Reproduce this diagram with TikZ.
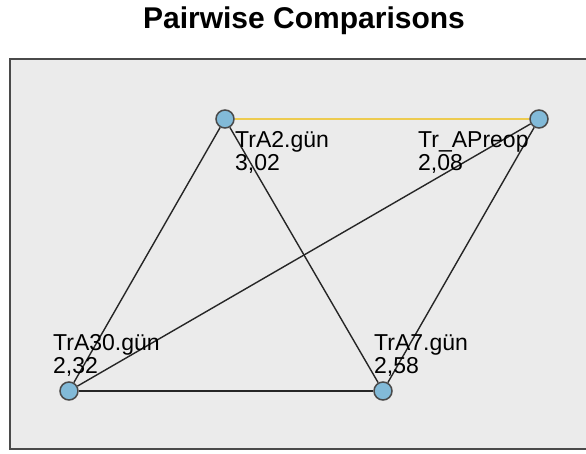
\documentclass[tikz,border=0pt]{standalone}
\usepackage{fontspec}
\setmainfont{Liberation Sans}
\usetikzlibrary{positioning,backgrounds}
\definecolor{sfondo}{HTML}{EBEBEB}
\definecolor{cornice}{HTML}{4A4A4A}
\definecolor{nodo}{HTML}{82BAD8}
\definecolor{giallo}{HTML}{EDCB4F}
\begin{document}
\begin{tikzpicture}[
  x=1pt, y=-1pt,
  vertice/.style={circle, draw=cornice, line width=1.5pt, fill=nodo,
                  minimum size=18pt, inner sep=0pt},
  etichetta/.style={align=left, inner sep=0pt,
                    font=\fontsize{23}{23.5}\selectfont},
  arco/.style={draw=black!85, line width=1.4pt},
  evidenziato/.style={draw=giallo, line width=2.6pt}
]
\useasboundingbox (0,0) rectangle (586,453);

% ---- titolo --------------------------------------------------------
\node[anchor=base, font=\fontsize{30}{33}\selectfont\bfseries] (titolo)
  at (304,28) {Pairwise Comparisons};

% ---- vertici -------------------------------------------------------
\node[vertice] (a2)    at (225,119) {};
\node[vertice] (preop) at (539,119) {};
\node[vertice] (a30)   at (69,391)  {};
\node[vertice] (a7)    at (383,391) {};

% ---- etichette -----------------------------------------------------
\node[etichetta, anchor=north west] (lab2)   at (235,131) {TrA2.gün\\3,02};
\node[etichetta, anchor=north west] (labpre) at (418,131) {Tr\_APreop\\2,08};
\node[etichetta, anchor=south west] (lab30)  at (53,377)  {TrA30.gün\\2,32};
\node[etichetta, anchor=south west] (lab7)   at (374,377) {TrA7.gün\\2,58};

% ---- cornice e archi, dietro ai vertici ----------------------------
\begin{scope}[on background layer]
  \clip (0,0) rectangle (586,453);
  \draw[fill=sfondo, draw=cornice, line width=2pt] (10,59) rectangle (620,449);
  \draw[evidenziato] (a2) -- (preop);
  \draw[arco] (a2) -- (a30);
  \draw[arco] (a2) -- (a7);
  \draw[arco] (preop) -- (a30);
  \draw[arco] (preop) -- (a7);
  \draw[arco] (a30) -- (a7);
\end{scope}

\end{tikzpicture}
\end{document}
